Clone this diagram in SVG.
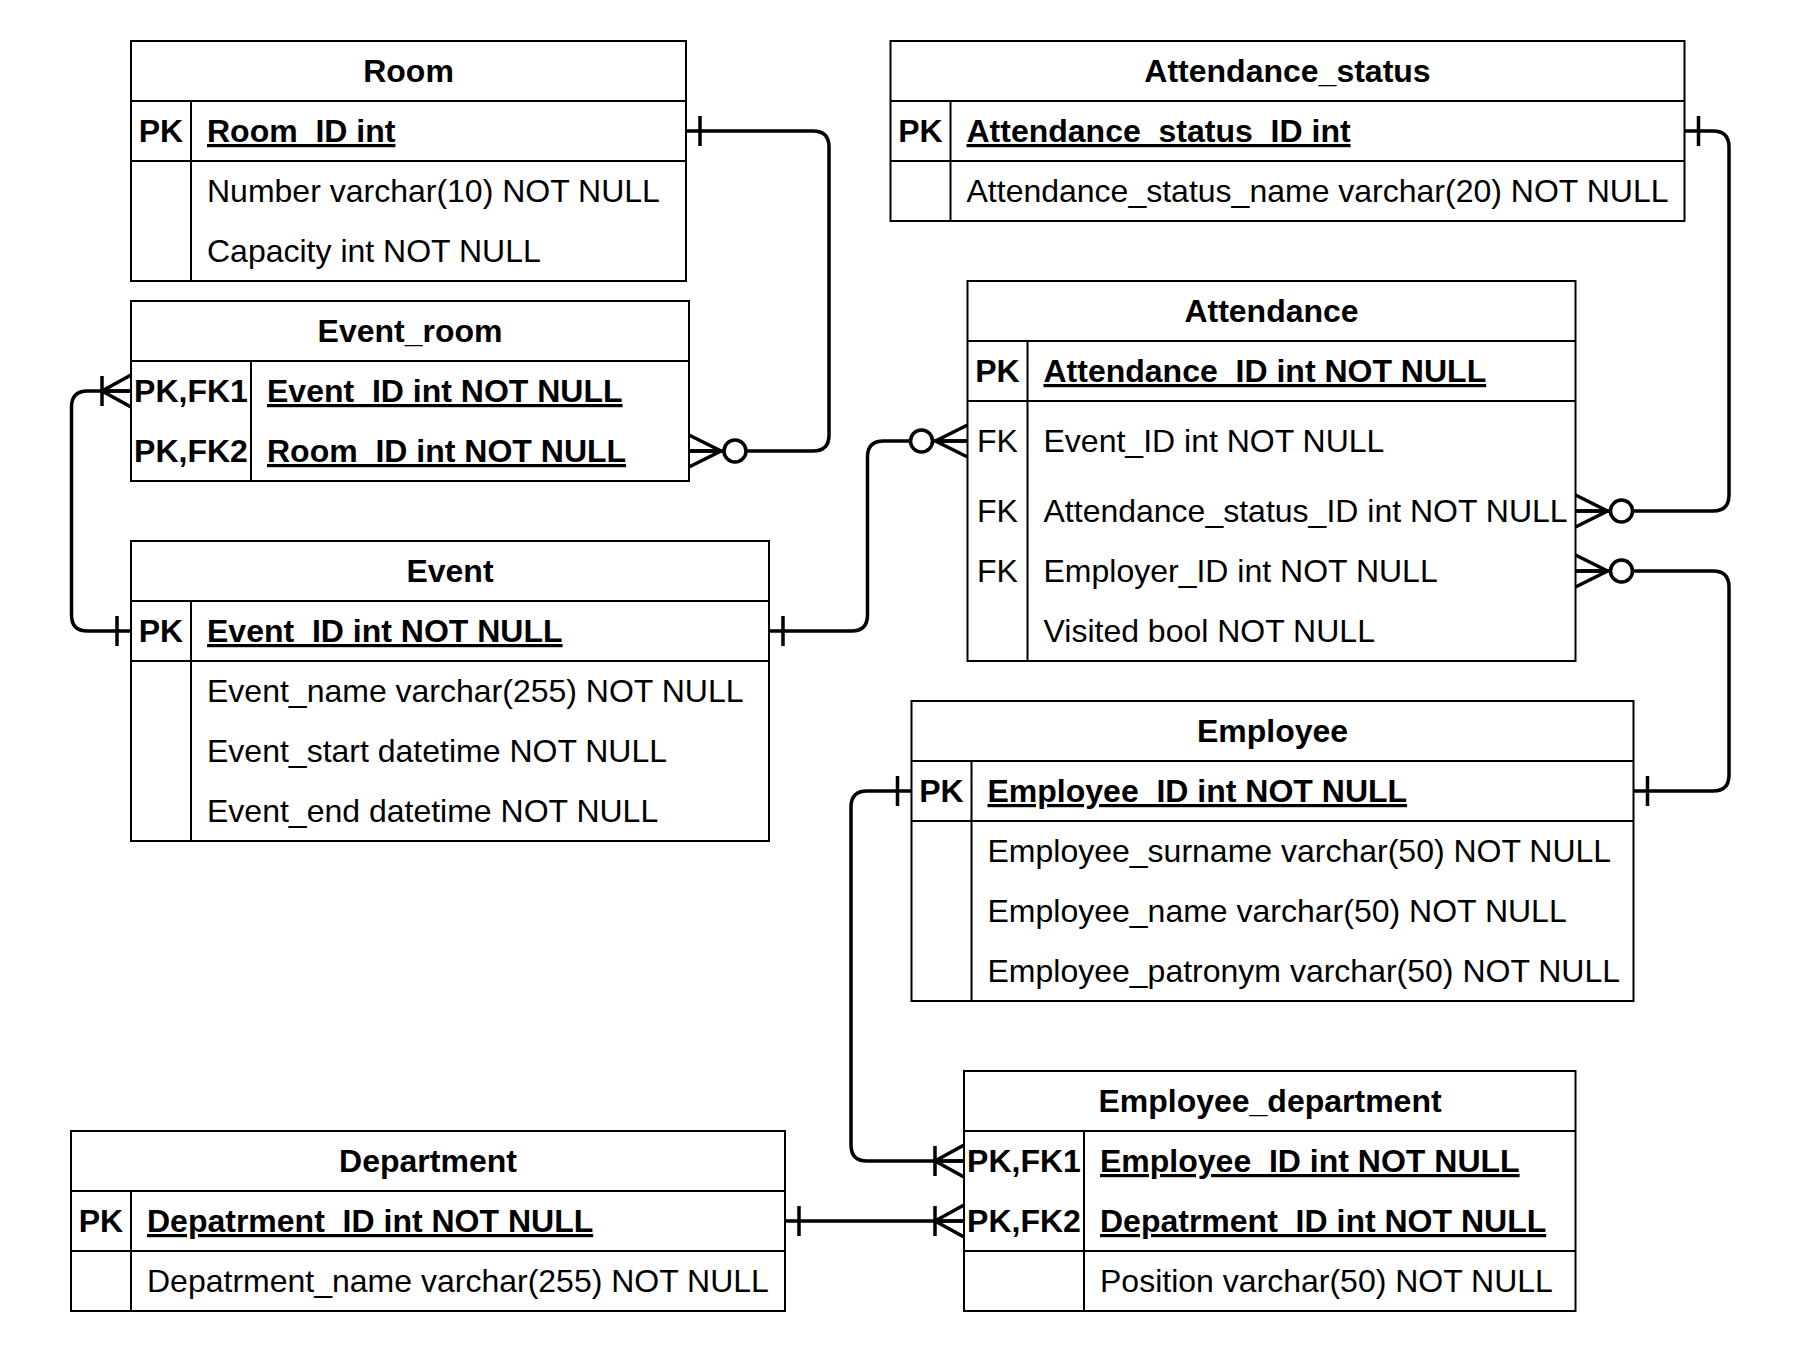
<svg xmlns="http://www.w3.org/2000/svg" xmlns:xlink="http://www.w3.org/1999/xlink" width="1802" height="1352" viewBox="0 0 1802 1352">
<style>
.box{fill:#fff;stroke:#000;stroke-width:2}
.sep{stroke:#000;stroke-width:2;fill:none}
text{font-family:"Liberation Sans",Arial,Helvetica,sans-serif;font-size:32px;fill:#000}
.t{font-weight:bold;text-anchor:middle}
.k{font-weight:bold;text-anchor:middle}
.kr{text-anchor:middle}
.pk{font-weight:bold;text-decoration:underline}
.edge{fill:none;stroke:#000;stroke-width:3.5}
.mk{fill:none;stroke:#000;stroke-width:3.5}
.circ{fill:#fff;stroke:#000;stroke-width:3.5}
</style>
<defs>
<g id="one"><path class="mk" d="M14,-15V15"/></g>
<g id="zeroMany"><path class="mk" d="M0,-16L32,0L0,16M0,0H34"/><circle class="circ" cx="46" cy="0" r="11"/></g>
<g id="oneMany"><path class="mk" d="M0,-16L29,0L0,16M0,0H30M29,-15V15"/></g>
</defs>
<rect x="0" y="0" width="1802" height="1352" fill="#fff"/>

<g id="connectors">
<path class="edge" d="M686,131H813Q829,131 829,147V435Q829,451 813,451H689"/>
<path class="edge" d="M131,631H87.5Q71.5,631 71.5,615V407Q71.5,391 87.5,391H131"/>
<path class="edge" d="M769,631H851.5Q867.5,631 867.5,615V457Q867.5,441 883.5,441H967.5"/>
<path class="edge" d="M1684.5,131H1713Q1729,131 1729,147V495Q1729,511 1713,511H1575.5"/>
<path class="edge" d="M1575.5,571H1713Q1729,571 1729,587V775Q1729,791 1713,791H1633.5"/>
<path class="edge" d="M911.5,791H867Q851,791 851,807V1145Q851,1161 867,1161H964"/>
<path class="edge" d="M785,1221H964"/>
<use xlink:href="#one" transform="translate(686,131)"/>
<use xlink:href="#zeroMany" transform="translate(689,451)"/>
<use xlink:href="#one" transform="translate(131,631) scale(-1,1)"/>
<use xlink:href="#oneMany" transform="translate(131,391) scale(-1,1)"/>
<use xlink:href="#one" transform="translate(769,631)"/>
<use xlink:href="#zeroMany" transform="translate(967.5,441) scale(-1,1)"/>
<use xlink:href="#one" transform="translate(1684.5,131)"/>
<use xlink:href="#zeroMany" transform="translate(1575.5,511)"/>
<use xlink:href="#zeroMany" transform="translate(1575.5,571)"/>
<use xlink:href="#one" transform="translate(1633.5,791)"/>
<use xlink:href="#one" transform="translate(911.5,791) scale(-1,1)"/>
<use xlink:href="#oneMany" transform="translate(964,1161) scale(-1,1)"/>
<use xlink:href="#one" transform="translate(785,1221)"/>
<use xlink:href="#oneMany" transform="translate(964,1221) scale(-1,1)"/>
</g>

<g id="Room">
<rect class="box" x="131" y="41" width="555" height="240"/>
<path class="sep" d="M131,101H686M131,161H686M191,101V281"/>
<text class="t" x="408.5" y="82">Room</text>
<text class="k" x="161" y="142">PK</text>
<text class="pk" x="207" y="142">Room_ID int</text>
<text x="207" y="202">Number varchar(10) NOT NULL</text>
<text x="207" y="262">Capacity int NOT NULL</text>
</g>

<g id="Event_room">
<rect class="box" x="131" y="301" width="558" height="180"/>
<path class="sep" d="M131,361H689M251,361V481"/>
<text class="t" x="410" y="342">Event_room</text>
<text class="k" x="191" y="402">PK,FK1</text>
<text class="pk" x="267" y="402">Event_ID int NOT NULL</text>
<text class="k" x="191" y="462">PK,FK2</text>
<text class="pk" x="267" y="462">Room_ID int NOT NULL</text>
</g>

<g id="Event">
<rect class="box" x="131" y="541" width="638" height="300"/>
<path class="sep" d="M131,601H769M131,661H769M191,601V841"/>
<text class="t" x="450" y="582">Event</text>
<text class="k" x="161" y="642">PK</text>
<text class="pk" x="207" y="642">Event_ID int NOT NULL</text>
<text x="207" y="702">Event_name varchar(255) NOT NULL</text>
<text x="207" y="762">Event_start datetime NOT NULL</text>
<text x="207" y="822">Event_end datetime NOT NULL</text>
</g>

<g id="Attendance_status">
<rect class="box" x="890.5" y="41" width="794" height="180"/>
<path class="sep" d="M890.5,101H1684.5M890.5,161H1684.5M950.5,101V221"/>
<text class="t" x="1287.5" y="82">Attendance_status</text>
<text class="k" x="920.5" y="142">PK</text>
<text class="pk" x="966.5" y="142">Attendance_status_ID int</text>
<text x="966.5" y="202">Attendance_status_name varchar(20) NOT NULL</text>
</g>

<g id="Attendance">
<rect class="box" x="967.5" y="281" width="608" height="380"/>
<path class="sep" d="M967.5,341H1575.5M967.5,401H1575.5M1027.5,341V661"/>
<text class="t" x="1271.5" y="322">Attendance</text>
<text class="k" x="997.5" y="382">PK</text>
<text class="pk" x="1043.5" y="382">Attendance_ID int NOT NULL</text>
<text class="kr" x="997.5" y="452">FK</text>
<text x="1043.5" y="452">Event_ID int NOT NULL</text>
<text class="kr" x="997.5" y="522">FK</text>
<text x="1043.5" y="522">Attendance_status_ID int NOT NULL</text>
<text class="kr" x="997.5" y="582">FK</text>
<text x="1043.5" y="582">Employer_ID int NOT NULL</text>
<text x="1043.5" y="642">Visited bool NOT NULL</text>
</g>

<g id="Employee">
<rect class="box" x="911.5" y="701" width="722" height="300"/>
<path class="sep" d="M911.5,761H1633.5M911.5,821H1633.5M971.5,761V1001"/>
<text class="t" x="1272.5" y="742">Employee</text>
<text class="k" x="941.5" y="802">PK</text>
<text class="pk" x="987.5" y="802">Employee_ID int NOT NULL</text>
<text x="987.5" y="862">Employee_surname varchar(50) NOT NULL</text>
<text x="987.5" y="922">Employee_name varchar(50) NOT NULL</text>
<text x="987.5" y="982">Employee_patronym varchar(50) NOT NULL</text>
</g>

<g id="Employee_department">
<rect class="box" x="964" y="1071" width="611.5" height="240"/>
<path class="sep" d="M964,1131H1575.5M964,1251H1575.5M1084,1131V1311"/>
<text class="t" x="1270" y="1112">Employee_department</text>
<text class="k" x="1024" y="1172">PK,FK1</text>
<text class="pk" x="1100" y="1172">Employee_ID int NOT NULL</text>
<text class="k" x="1024" y="1232">PK,FK2</text>
<text class="pk" x="1100" y="1232">Depatrment_ID int NOT NULL</text>
<text x="1100" y="1292">Position varchar(50) NOT NULL</text>
</g>

<g id="Department">
<rect class="box" x="71" y="1131" width="714" height="180"/>
<path class="sep" d="M71,1191H785M71,1251H785M131,1191V1311"/>
<text class="t" x="428" y="1172">Department</text>
<text class="k" x="101" y="1232">PK</text>
<text class="pk" x="147" y="1232">Depatrment_ID int NOT NULL</text>
<text x="147" y="1292">Depatrment_name varchar(255) NOT NULL</text>
</g>
</svg>
